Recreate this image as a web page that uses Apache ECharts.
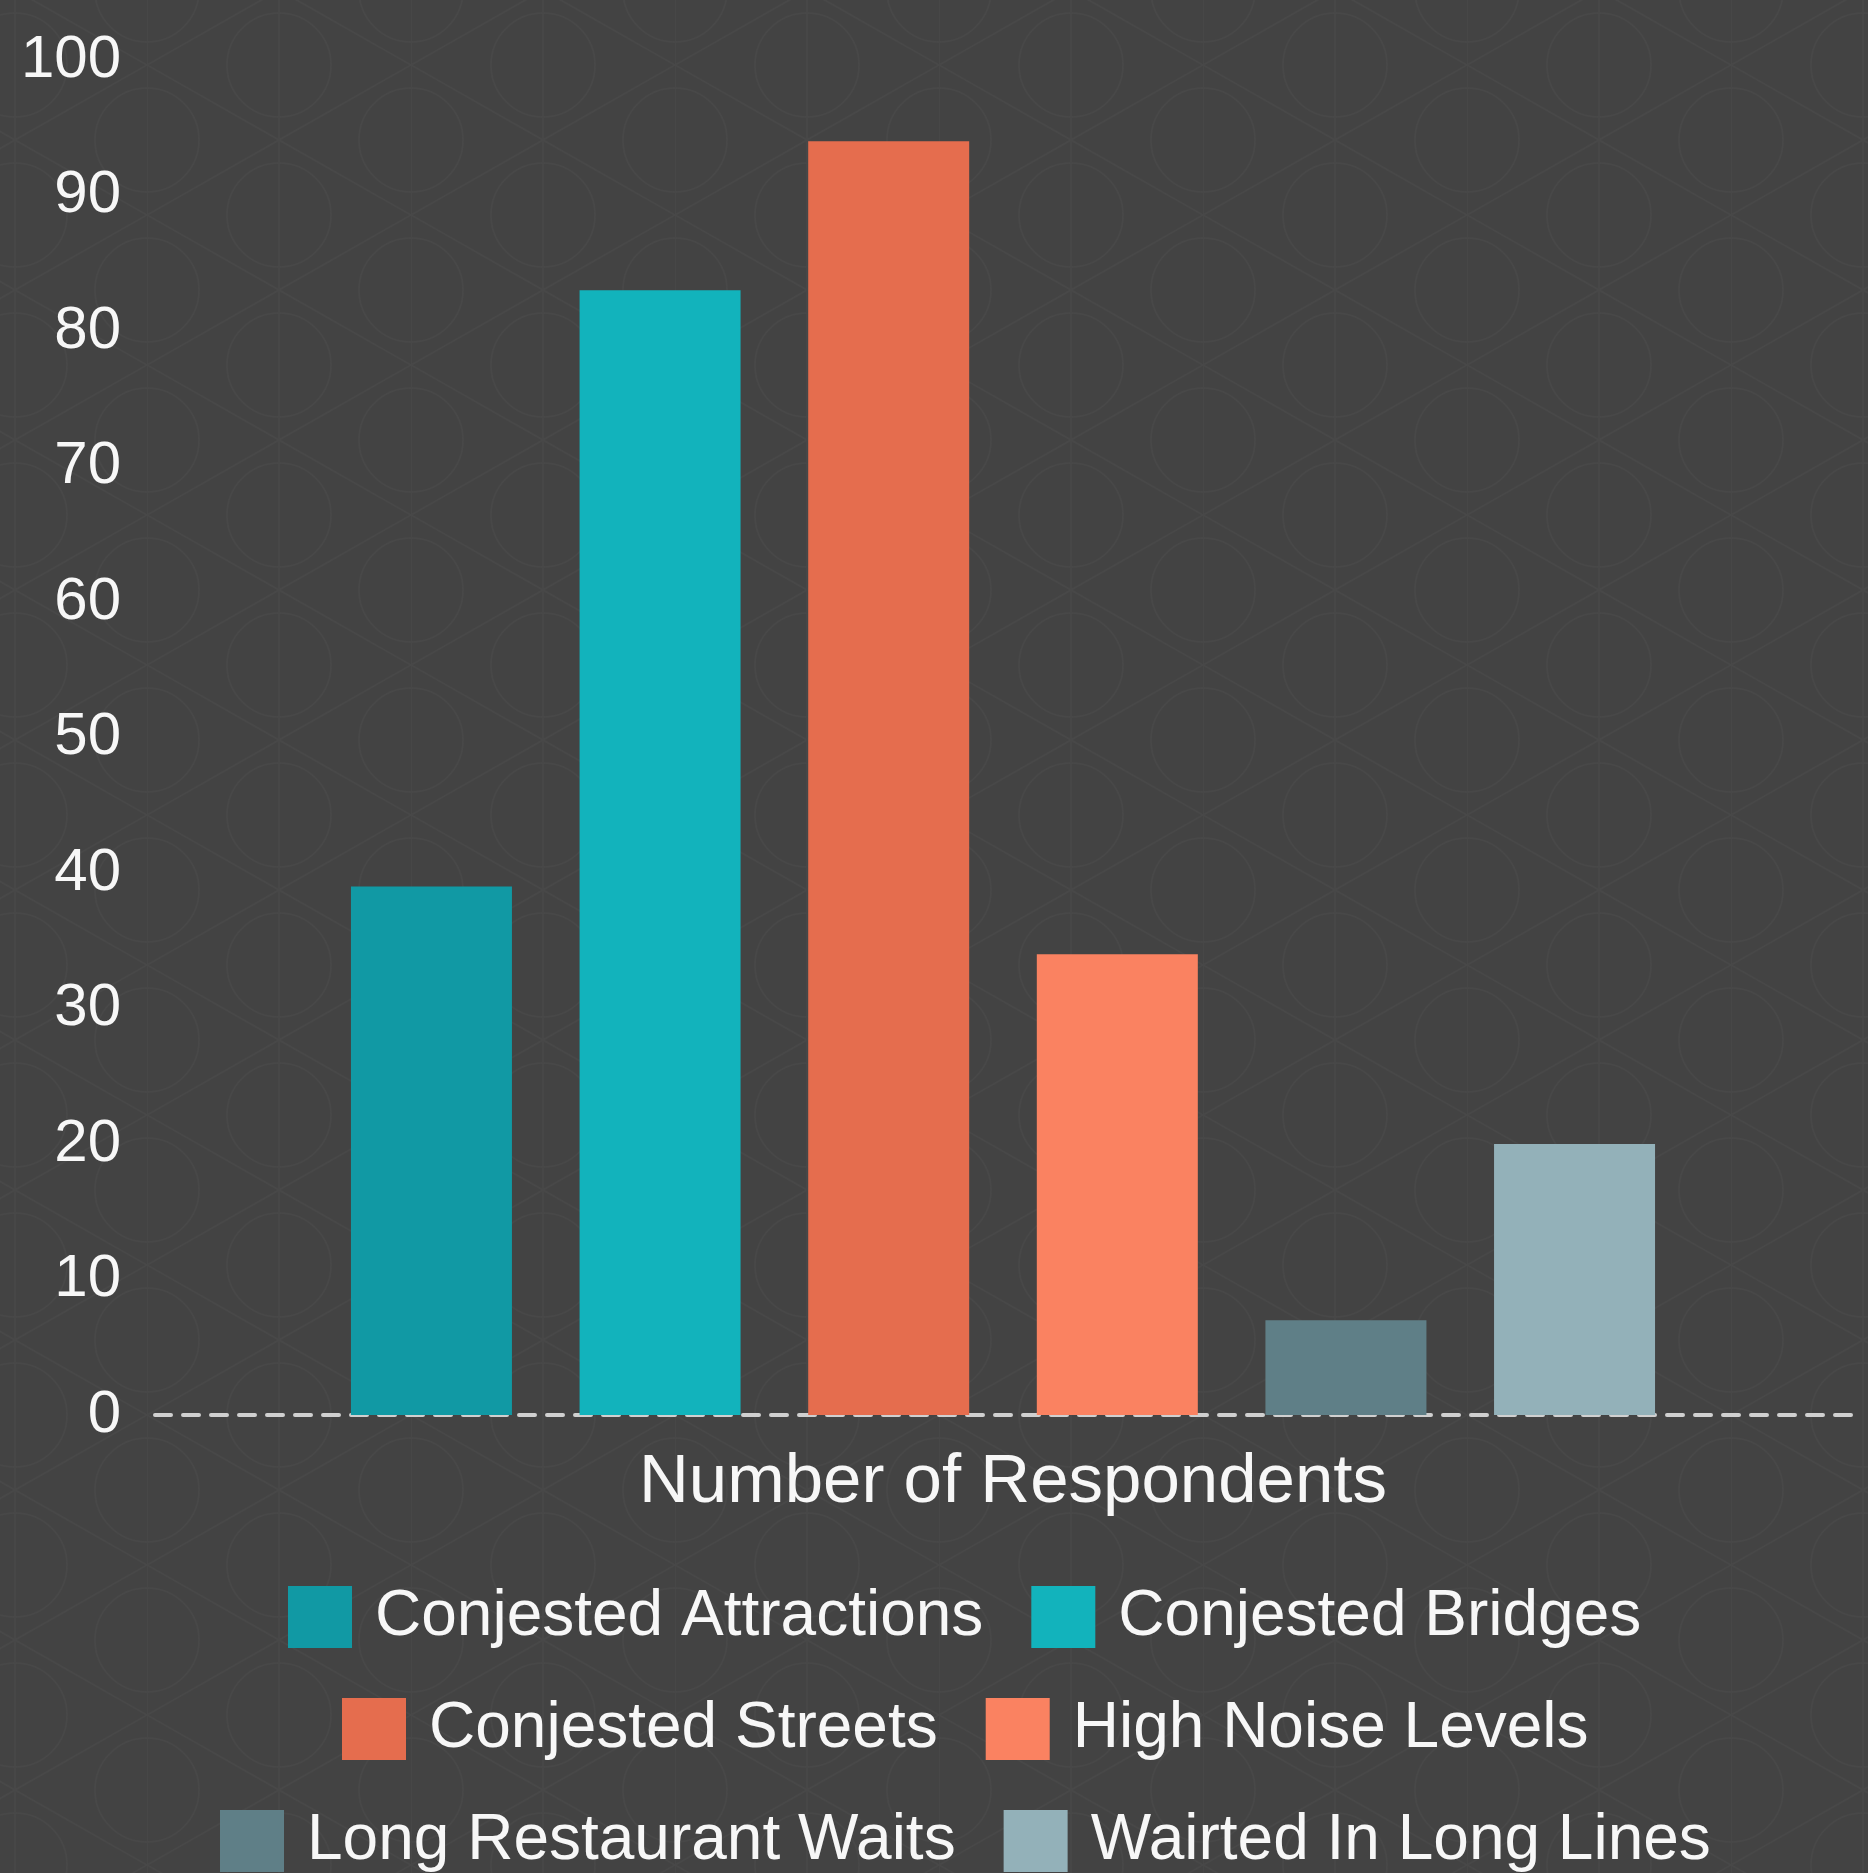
<!DOCTYPE html>
<html>
<head>
<meta charset="utf-8">
<script src="https://cdn.jsdelivr.net/npm/echarts@6/dist/echarts.min.js"></script>
<style>
  html, body { margin: 0; padding: 0; background: #434343; }
  #chart {
    width: 1868px; height: 1873px;
    background-color: #434343;
    background-image: url("data:image/svg+xml,%3Csvg xmlns='http://www.w3.org/2000/svg' width='264' height='150'%3E%3Cg fill='none' stroke='%23484848' stroke-width='1.5'%3E%3Cpath d='M0 0L0 150M132 75L0 0M132 75L0 150M132 75L264 0M132 75L264 150M132 0L132 150'/%3E%3Ccircle cx='0' cy='75' r='52'/%3E%3Ccircle cx='264' cy='75' r='52'/%3E%3Ccircle cx='132' cy='0' r='52'/%3E%3Ccircle cx='132' cy='150' r='52'/%3E%3C/g%3E%3C/svg%3E");
    background-position: 147px 65px;
  }
</style>
</head>
<body>
<div id="chart"></div>
<script>
// data
var categories = ['Number of Respondents'];
var seriesNames = [
  'Conjested Attractions',
  'Conjested Bridges',
  'Conjested Streets',
  'High Noise Levels',
  'Long Restaurant Waits',
  'Wairted In Long Lines'
];
var seriesValues = [39, 83, 94, 34, 7, 20];
var seriesColors = ['#1199a4', '#12b3bc', '#e56d4e', '#fa8261', '#5f7f87', '#93b1b9'];
var yTicks = [0, 10, 20, 30, 40, 50, 60, 70, 80, 90, 100];

var chart = echarts.init(document.getElementById('chart'));

var series = [];
for (var i = 0; i < seriesNames.length; i++) {
  series.push({
    name: seriesNames[i],
    type: 'bar',
    data: [seriesValues[i]],
    barWidth: 161,
    barGap: '42%',
    itemStyle: { color: seriesColors[i] }
  });
}

// one legend per row, two names each, like the original
var legendRows = [
  { left: 288, top: 1585 },
  { left: 342, top: 1697 },
  { left: 220, top: 1809 }
];
var legends = legendRows.map(function (row, r) {
  return {
    data: seriesNames.slice(r * 2, r * 2 + 2),
    left: row.left,
    top: row.top,
    orient: 'horizontal',
    padding: 0,
    itemWidth: 64,
    itemHeight: 62,
    itemGap: 48,
    icon: 'rect',
    textStyle: { color: '#f7f7f7', fontSize: 64, padding: [0, 0, 0, 18] }
  };
});

var option = {
  backgroundColor: 'transparent',
  textStyle: { fontFamily: 'Liberation Sans, Arial, sans-serif', color: '#f7f7f7' },
  grid: { left: 155, right: 17, top: 60, bottom: 458 },
  legend: legends,
  xAxis: {
    type: 'category',
    data: categories,
    axisLine: { show: true, lineStyle: { color: '#d0d0d0', width: 4, type: [16, 12] } },
    axisTick: { show: false },
    axisLabel: { color: '#f7f7f7', fontSize: 69, margin: 33, padding: [0, 0, 0, 20] }
  },
  yAxis: {
    type: 'value',
    min: yTicks[0],
    max: yTicks[yTicks.length - 1],
    interval: 10,
    axisLine: { show: false },
    axisTick: { show: false },
    splitLine: { show: false },
    axisLabel: { color: '#f7f7f7', fontSize: 60, margin: 34 }
  },
  series: series
};

chart.setOption(option);
</script>
</body>
</html>
